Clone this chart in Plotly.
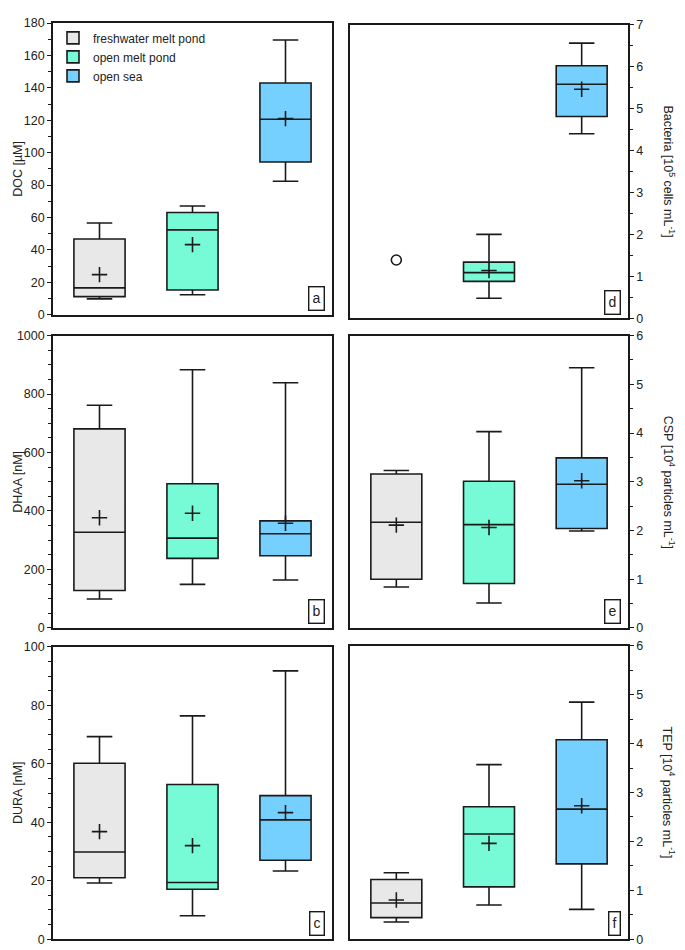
import plotly.graph_objects as go

groups = ["freshwater melt pond", "open melt pond", "open sea"]
colors = ["#E8E8E8", "#76FBD6", "#76D0FF"]

# box statistics per group: lower whisker, Q1, median, Q3, upper whisker, mean
doc_low = [9.7, 12.3, 82.3]
doc_q1 = [11.1, 15.2, 94.2]
doc_med = [16.5, 52.3, 120.6]
doc_q3 = [46.7, 63.0, 143.0]
doc_high = [56.6, 67.1, 169.5]
doc_mean = [24.7, 43.2, 121.0]

bac_low = [None, 0.48, 4.40]
bac_q1 = [None, 0.88, 4.81]
bac_med = [None, 1.09, 5.58]
bac_q3 = [None, 1.34, 6.02]
bac_high = [None, 2.0, 6.56]
bac_mean = [None, 1.14, 5.46]
bac_outlier = [1.39, None, None]

dhaa_low = [99, 149, 164]
dhaa_q1 = [128, 238, 247]
dhaa_med = [327, 307, 322]
dhaa_q3 = [681, 493, 366]
dhaa_high = [762, 883, 839]
dhaa_mean = [377, 392, 358]

csp_low = [0.84, 0.51, 1.99]
csp_q1 = [1.0, 0.91, 2.04]
csp_med = [2.17, 2.12, 2.95]
csp_q3 = [3.16, 3.01, 3.49]
csp_high = [3.23, 4.03, 5.34]
csp_mean = [2.11, 2.06, 3.02]

dura_low = [19.2, 8.0, 23.3]
dura_q1 = [21.0, 17.1, 27.0]
dura_med = [29.8, 19.4, 40.8]
dura_q3 = [60.2, 52.9, 49.1]
dura_high = [69.3, 76.4, 91.8]
dura_mean = [36.8, 32.0, 43.3]

tep_low = [0.35, 0.70, 0.61]
tep_q1 = [0.44, 1.07, 1.54]
tep_med = [0.74, 2.15, 2.66]
tep_q3 = [1.22, 2.71, 4.08]
tep_high = [1.36, 3.57, 4.85]
tep_mean = [0.80, 1.96, 2.73]

W, H = 685, 950
FONT = "Liberation Sans, Arial, sans-serif"


# map target screen pixels to paper fractions (page margin correction)
def px_x(v):
    return (v - 7) / W


def px_y(v):
    return 1 - ((v - 14.65) / 0.9844) / H


panels = [
    # name, stats, outliers, axis range, dtick, minor dtick, title, side, x px, y px
    ("a", (doc_low, doc_q1, doc_med, doc_q3, doc_high, doc_mean), None,
     [0, 180], 20, 10, "DOC [µM]", "left", (52, 331), (22.7, 314)),
    ("d", (bac_low, bac_q1, bac_med, bac_q3, bac_high, bac_mean), bac_outlier,
     [0, 7], 1, 0.5, "Bacteria [10<sup>5</sup> cells mL<sup>-1</sup>]", "right", (349, 627), (24.3, 317.7)),
    ("b", (dhaa_low, dhaa_q1, dhaa_med, dhaa_q3, dhaa_high, dhaa_mean), None,
     [0, 1000], 200, 50, "DHAA [nM]", "left", (52, 331), (335, 627)),
    ("e", (csp_low, csp_q1, csp_med, csp_q3, csp_high, csp_mean), None,
     [0, 6], 1, 0.5, "CSP [10<sup>4</sup> particles mL<sup>-1</sup>]", "right", (349, 627), (335, 627)),
    ("c", (dura_low, dura_q1, dura_med, dura_q3, dura_high, dura_mean), None,
     [0, 100], 20, 5, "DURA [nM]", "left", (52, 331), (646, 938)),
    ("f", (tep_low, tep_q1, tep_med, tep_q3, tep_high, tep_mean), None,
     [0, 6], 1, 0.5, "TEP [10<sup>4</sup> particles mL<sup>-1</sup>]", "right", (349, 627), (645, 938)),
]

fig = go.Figure()
annotations = []

for i, (label, stats, outl, rng, dtick, mdtick, title, side, xpx, ypx) in enumerate(panels):
    n = "" if i == 0 else str(i + 1)
    xa, ya = "x" + n, "y" + n
    low, q1, med, q3, high, mean = stats
    for g in range(3):
        if med[g] is None:
            continue
        fig.add_trace(go.Box(
            x=[g], q1=[q1[g]], median=[med[g]], q3=[q3[g]],
            lowerfence=[low[g]], upperfence=[high[g]],
            name=groups[g], legendgroup=groups[g], showlegend=(i == 0),
            fillcolor=colors[g], line=dict(color="#1a1a1a", width=1.6),
            width=0.55, whiskerwidth=0.5, boxpoints=False,
            xaxis=xa, yaxis=ya, hoverinfo="skip",
        ))
    mx = [g for g in range(3) if mean[g] is not None]
    fig.add_trace(go.Scatter(
        x=mx, y=[mean[g] for g in mx], mode="markers", showlegend=False,
        marker=dict(symbol="cross-thin", size=11, line=dict(color="#1a1a1a", width=1.6)),
        xaxis=xa, yaxis=ya,
    ))
    if outl is not None:
        ox = [g for g in range(3) if outl[g] is not None]
        fig.add_trace(go.Scatter(
            x=ox, y=[outl[g] for g in ox], mode="markers", showlegend=False,
            marker=dict(symbol="circle-open", size=10, color="#1a1a1a", line=dict(width=1.6)),
            xaxis=xa, yaxis=ya,
        ))

    xdom = [px_x(xpx[0]), px_x(xpx[1])]
    ydom = [px_y(ypx[1]), px_y(ypx[0])]
    fig.layout["xaxis" + n] = dict(
        domain=xdom, range=[-0.5, 2.5], anchor=ya, showline=True, mirror=True,
        linecolor="#1a1a1a", linewidth=1.6, showticklabels=False, ticks="",
        showgrid=False, zeroline=False,
    )
    fig.layout["yaxis" + n] = dict(
        domain=ydom, range=rng, anchor=xa, side=side, showline=True, mirror=True,
        linecolor="#1a1a1a", linewidth=1.6, ticks="outside", ticklen=4, tickwidth=1.4,
        tickcolor="#1a1a1a", dtick=dtick, tick0=0, showgrid=False, zeroline=False,
        tickfont=dict(family=FONT, size=12.5, color="#222"),
        minor=dict(ticks="outside", ticklen=3, tickwidth=1.2, tickcolor="#1a1a1a",
                   dtick=mdtick, showgrid=False),
    )
    ymid = (ydom[0] + ydom[1]) / 2
    if side == "left":
        annotations.append(dict(
            text=title, x=px_x(17), y=ymid, xref="paper", yref="paper",
            textangle=-90, showarrow=False, xanchor="center", yanchor="middle",
            font=dict(family=FONT, size=12.5, color="#222"),
        ))
    else:
        annotations.append(dict(
            text=title, x=px_x(668), y=ymid, xref="paper", yref="paper",
            textangle=90, showarrow=False, xanchor="center", yanchor="middle",
            font=dict(family=FONT, size=12.5, color="#222"),
        ))
    annotations.append(dict(
        text=label, x=0.976, y=0.012, xref=xa + " domain", yref=ya + " domain",
        xanchor="right", yanchor="bottom", showarrow=False,
        bordercolor="#1a1a1a", borderwidth=1.4, borderpad=3, bgcolor="white",
        font=dict(family=FONT, size=14, color="#222"),
    ))

fig.update_layout(
    width=W, height=H, margin=dict(l=0, r=0, t=0, b=0),
    plot_bgcolor="white", paper_bgcolor="white",
    annotations=annotations,
    legend=dict(
        x=px_x(52), y=px_y(23), xanchor="left", yanchor="top",
        font=dict(family=FONT, size=12, color="#222"),
        bgcolor="rgba(0,0,0,0)", tracegroupgap=0, itemwidth=30,
    ),
    font=dict(family=FONT),
)

fig.write_html("out.html")
